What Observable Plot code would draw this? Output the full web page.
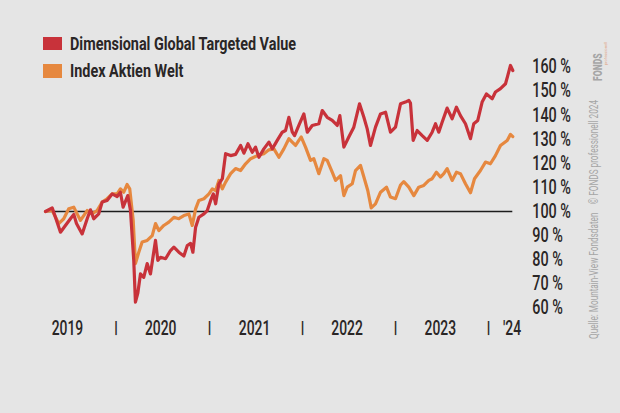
<!DOCTYPE html>
<html>
<head>
<meta charset="utf-8">
<script src="https://cdn.jsdelivr.net/npm/d3@7"></script>
<script src="https://cdn.jsdelivr.net/npm/@observablehq/plot@0.6"></script>
<style>
  html, body { margin: 0; padding: 0; background: #e5e5e5; }
  #wrap { position: relative; width: 620px; height: 413px; background: #e5e5e5; overflow: hidden;
          font-family: Roboto, "Noto Sans", sans-serif; }
  #chart { position: absolute; left: 0; top: 0; }
  #legend { position: absolute; left: 43px; top: 30px; }
  .item { display: flex; align-items: center; height: 27.3px; }
  .sw { width: 19px; height: 13.5px; margin-right: 8px; flex: none; }
  .lbl { display: inline-block; font-size: 18px; font-weight: 700; color: #2a2626; white-space: nowrap;
         transform-origin: left center; transform: scaleX(0.8); }
  #credit { position: absolute; left: 588px; top: 339px; transform-origin: left top; transform: rotate(-90deg) scaleX(0.63);
            font-size: 13px; color: #a6a6a6; white-space: nowrap; line-height: 12px; }
  #logo { position: absolute; left: 591px; top: 81px; transform-origin: left top; transform: rotate(-90deg);
          white-space: nowrap; line-height: 11px; width: 30px; height: 14px; }
  #logo b { display: inline-block; font-size: 12px; color: #a6a6a6; font-weight: 900; transform-origin: left top; transform: scaleX(0.72); }
  #logo i { position: absolute; left: 16px; top: 9px; font-size: 4px; color: #e0a17e; font-style: normal; }
</style>
</head>
<body>
<div id="wrap">
  <div id="chart"></div>
  <div id="legend"></div>
  <div id="credit"></div>
  <div id="logo"><b>FONDS</b><i>professionell</i></div>
</div>
<script>
// ---- Series names and colours
const seriesNames = ["Dimensional Global Targeted Value", "Index Aktien Welt"];
const seriesColors = ["#c8323a", "#e6883f"];

// ---- Dimensional Global Targeted Value (time in decimal years, value in %)
const dgtvTime = [2019.241,2019.313,2019.348,2019.402,2019.455,2019.509,2019.545,2019.574,2019.635,2019.689,2019.724,2019.759,2019.813,2019.850,2019.903,2019.957,2020.011,2020.046,2020.075,2020.125,2020.154,2020.189,2020.207,2020.232,2020.261,2020.296,2020.333,2020.368,2020.422,2020.447,2020.476,2020.530,2020.583,2020.619,2020.672,2020.726,2020.763,2020.798,2020.823,2020.852,2020.887,2020.941,2020.977,2021.013,2021.042,2021.067,2021.102,2021.139,2021.174,2021.228,2021.281,2021.335,2021.371,2021.414,2021.461,2021.496,2021.532,2021.585,2021.639,2021.676,2021.729,2021.783,2021.818,2021.854,2021.890,2021.915,2021.961,2022.015,2022.052,2022.105,2022.176,2022.213,2022.266,2022.320,2022.374,2022.402,2022.445,2022.498,2022.552,2022.613,2022.660,2022.696,2022.731,2022.785,2022.839,2022.893,2022.946,2023.000,2023.054,2023.107,2023.143,2023.161,2023.190,2023.233,2023.287,2023.341,2023.394,2023.430,2023.465,2023.502,2023.555,2023.609,2023.655,2023.698,2023.752,2023.806,2023.841,2023.884,2023.931,2023.977,2024.039,2024.074,2024.128,2024.182,2024.206,2024.235,2024.260];
const dgtvValue = [100,101.5,97.6,91.4,94.2,97,98.8,95,90.7,97,100.7,97,99,103.9,104.6,107.3,106.2,108,101.8,106.6,100.4,79.7,62.4,66,74.1,72.7,78.4,74.1,88,79.7,81,80.4,83.8,85.2,83.1,81.5,85.9,86.8,83.1,93.5,97.6,99,100.4,104.6,107.3,103.2,111.5,113.6,124,123.2,123.7,127.4,124.2,128.1,124.6,126.7,122.5,126,128.8,126,129.5,132.9,133.6,139.1,133,131.5,135.7,140.5,132.9,135.7,136.4,141.9,139.1,137.8,135.7,139.8,126.7,130.9,135,144.7,139.1,134.3,127.4,135,140.5,141.2,132.9,135,144.7,145.4,146.1,145,129.5,133.6,131.5,129.5,132.9,136.4,132.9,137.1,142.9,138.5,143.3,139.8,136.4,130.2,136.4,137.8,145.4,148.8,146.8,149.6,151,153,156.4,160.6,158.5];

// ---- Index Aktien Welt
const indexTime = [2019.241,2019.313,2019.383,2019.437,2019.491,2019.545,2019.581,2019.617,2019.689,2019.742,2019.796,2019.850,2019.903,2019.957,2020.011,2020.046,2020.082,2020.118,2020.146,2020.183,2020.207,2020.243,2020.279,2020.333,2020.387,2020.422,2020.458,2020.511,2020.565,2020.619,2020.672,2020.726,2020.780,2020.816,2020.852,2020.887,2020.941,2020.995,2021.031,2021.067,2021.102,2021.139,2021.174,2021.228,2021.281,2021.335,2021.389,2021.443,2021.515,2021.585,2021.639,2021.693,2021.747,2021.800,2021.854,2021.890,2021.926,2021.961,2021.987,2022.033,2022.087,2022.122,2022.176,2022.230,2022.266,2022.320,2022.356,2022.409,2022.445,2022.481,2022.535,2022.570,2022.624,2022.660,2022.702,2022.739,2022.785,2022.839,2022.903,2022.946,2023.000,2023.054,2023.089,2023.143,2023.197,2023.250,2023.304,2023.358,2023.394,2023.440,2023.483,2023.519,2023.555,2023.609,2023.655,2023.698,2023.752,2023.806,2023.849,2023.913,2023.967,2024.020,2024.074,2024.128,2024.200,2024.235,2024.260];
const indexValue = [100,100.4,95,97,101.1,101.8,99,96.3,100.4,99,100.4,103.9,105.3,107.3,107.3,109.4,108,111.2,109.4,96.3,78.4,83.1,87.3,88,90,95,92.1,94.2,95.6,97.6,97,98.3,99,94.2,101.1,104.6,105.3,107.3,109.4,108.7,112.9,109.4,112.2,115.7,117.8,117,119.8,121.9,123.2,124,125.6,126,122.5,126,130.2,128.8,127.4,129.5,130.9,126.7,121.2,121.9,115.7,121.9,121.2,116.3,112.9,114.9,106.6,110.1,111.5,117,119.1,114.3,108.7,101.5,103.2,108,110.1,106,105.3,111,112.4,110.1,106.6,110.1,110.8,112.9,113.6,116.3,114.3,115.7,117.8,112.9,116.3,115.7,111.5,107.8,113.6,117,120.5,119.8,123.2,127.4,129.5,132,131.1];

// ---- Axis labels
const yTicks = [60,70,80,90,100,110,120,130,140,150,160];
const xLabels = ["2019","2020","2021","2022","2023","'24"];
const xLabelDates = ["2019-06-24","2020-06-24","2021-06-27","2022-06-25","2023-06-26","2024-04-02"];
const yearStarts = ["2020-01-01","2021-01-01","2022-01-01","2023-01-01","2024-01-01"];
const baseline = 100;
const creditText = "Quelle: Mountain-View Fondsdaten\u2003\u00a9 FONDS professionell 2024";

// decimal year -> Date
const toDate = t => {
  const y = Math.floor(t);
  const s = Date.UTC(y, 0, 1), e = Date.UTC(y + 1, 0, 1);
  return new Date(s + (t - y) * (e - s));
};
const dgtvRows = dgtvTime.map((t, i) => ({date: toDate(t), value: dgtvValue[i]}));
const indexRows = indexTime.map((t, i) => ({date: toDate(t), value: indexValue[i]}));
const labelRows = xLabels.map((l, i) => ({label: l, date: new Date(xLabelDates[i])}));
const sepRows = yearStarts.map(d => ({date: new Date(d)}));

const font = 'Roboto, "Noto Sans", sans-serif';

const chart = Plot.plot({
  width: 620,
  height: 413,
  marginTop: 66.4,
  marginBottom: 105.6,
  marginLeft: 45,
  marginRight: 107.7,
  style: {background: "transparent", fontFamily: font, overflow: "visible"},
  x: {type: "utc", domain: [toDate(dgtvTime[0]), toDate(dgtvTime[dgtvTime.length - 1])], axis: null},
  y: {domain: [60, 160], axis: null},
  marks: [
    Plot.axisY(yTicks, {anchor: "right", tickSize: 0, tickPadding: 19.4, tickFormat: d => d + " %",
      fontSize: 20, fontWeight: 500, fill: "#2a2626", label: null, className: "cond-y"}),
    Plot.ruleY([baseline], {stroke: "#1c1c1c", strokeWidth: 1.6}),
    Plot.line(indexRows, {x: "date", y: "value", stroke: seriesColors[1], strokeWidth: 3.2, strokeLinejoin: "round"}),
    Plot.line(dgtvRows, {x: "date", y: "value", stroke: seriesColors[0], strokeWidth: 3.2, strokeLinejoin: "round"}),
    Plot.text(labelRows, {x: "date", text: "label", frameAnchor: "bottom", lineAnchor: "middle", dy: 20, fontSize: 21, fontWeight: 500, fill: "#2a2626", className: "cond-x"}),
    Plot.text(sepRows, {x: "date", text: () => "|", frameAnchor: "bottom", lineAnchor: "middle", dy: 20, fontSize: 16, fontWeight: 700, fill: "#2a2626"})
  ]
});
document.getElementById("chart").appendChild(chart);

// Condense the axis text (the original uses a condensed typeface)
function condense(selector, factor) {
  chart.querySelectorAll(selector + " text").forEach(t => {
    const w = t.getComputedTextLength();
    t.setAttribute("textLength", (w * factor).toFixed(2));
    t.setAttribute("lengthAdjust", "spacingAndGlyphs");
  });
}
condense(".cond-y", 0.72);
condense(".cond-x", 0.66);

const legend = document.getElementById("legend");
seriesNames.forEach((n, i) => {
  const item = document.createElement("div");
  item.className = "item";
  item.innerHTML = `<span class="sw" style="background:${seriesColors[i]}"></span><span class="lbl">${n}</span>`;
  legend.appendChild(item);
});
document.getElementById("credit").textContent = creditText;
</script>
</body>
</html>
